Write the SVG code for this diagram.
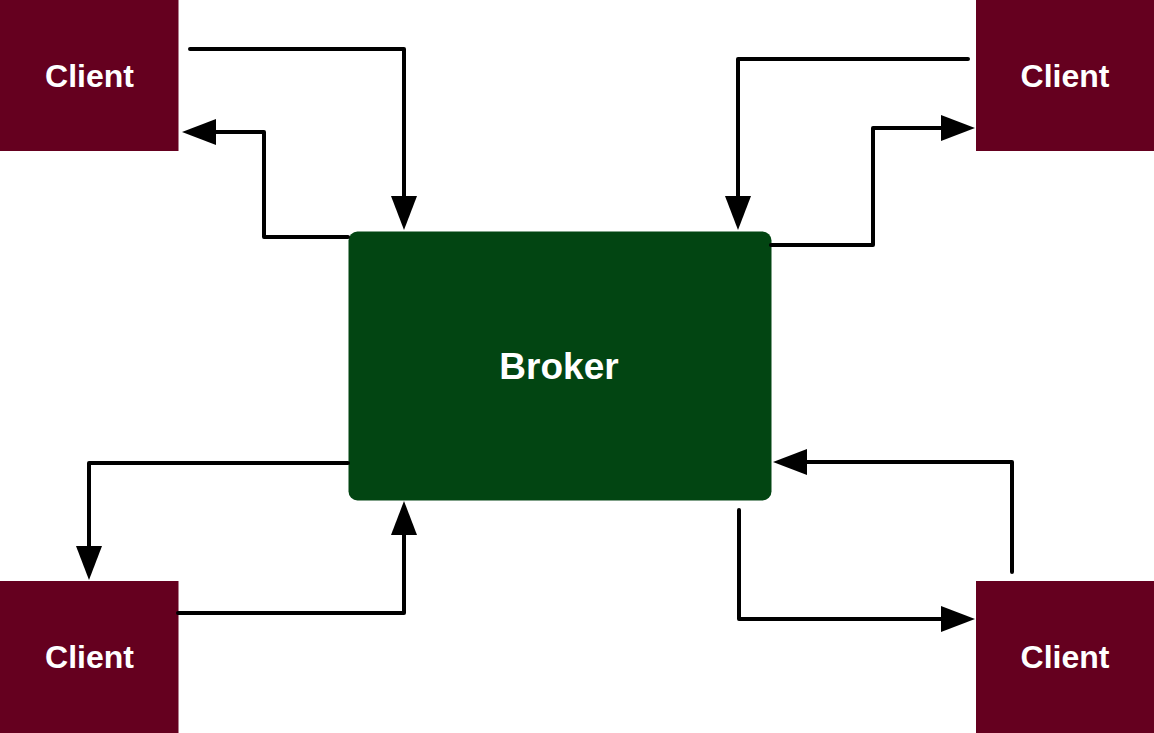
<svg xmlns="http://www.w3.org/2000/svg" width="1154" height="733" viewBox="0 0 1154 733">
  <style>
    .client { fill: #65001F; }
    .broker { fill: #024512; }
    .label { font-family: "Liberation Sans", Arial, sans-serif; font-weight: bold; fill: #ffffff; text-anchor: middle; }
    .conn { fill: none; stroke: #000000; stroke-width: 4; stroke-linejoin: round; stroke-linecap: round; }
  </style>
  <defs>
    <marker id="arrow" markerUnits="userSpaceOnUse" markerWidth="36" markerHeight="28" refX="0" refY="13" orient="auto" overflow="visible">
      <path d="M0,0 L34,13 L0,26 Z" fill="#000000"/>
    </marker>
  </defs>
  <rect width="1154" height="733" fill="#ffffff"/>
  <g id="client-tl">
    <rect class="client" x="0" y="0" width="178.5" height="151"/>
    <text class="label" x="89.5" y="87" font-size="32">Client</text>
  </g>
  <g id="client-tr">
    <rect class="client" x="976" y="0" width="178" height="151"/>
    <text class="label" x="1065" y="87" font-size="32">Client</text>
  </g>
  <g id="client-bl">
    <rect class="client" x="0" y="581" width="178.5" height="152"/>
    <text class="label" x="89.5" y="668" font-size="32">Client</text>
  </g>
  <g id="client-br">
    <rect class="client" x="976" y="581" width="178" height="152"/>
    <text class="label" x="1065" y="668" font-size="32">Client</text>
  </g>
  <g id="broker">
    <rect class="broker" x="348.5" y="231.5" width="423" height="269" rx="9" ry="9"/>
    <text class="label" x="559" y="379" font-size="37">Broker</text>
  </g>
  <g id="connectors">
    <path class="conn" d="M190,49 H404 V196" marker-end="url(#arrow)"/>
    <path class="conn" d="M348,237 H264 V132 H216" marker-end="url(#arrow)"/>
    <path class="conn" d="M968,59 H738 V196" marker-end="url(#arrow)"/>
    <path class="conn" d="M771,245 H873 V128 H941" marker-end="url(#arrow)"/>
    <path class="conn" d="M348,463 H89 V546" marker-end="url(#arrow)"/>
    <path class="conn" d="M178,613 H404 V535" marker-end="url(#arrow)"/>
    <path class="conn" d="M1012,572 V462 H807" marker-end="url(#arrow)"/>
    <path class="conn" d="M739,510 V619 H941" marker-end="url(#arrow)"/>
  </g>
</svg>
